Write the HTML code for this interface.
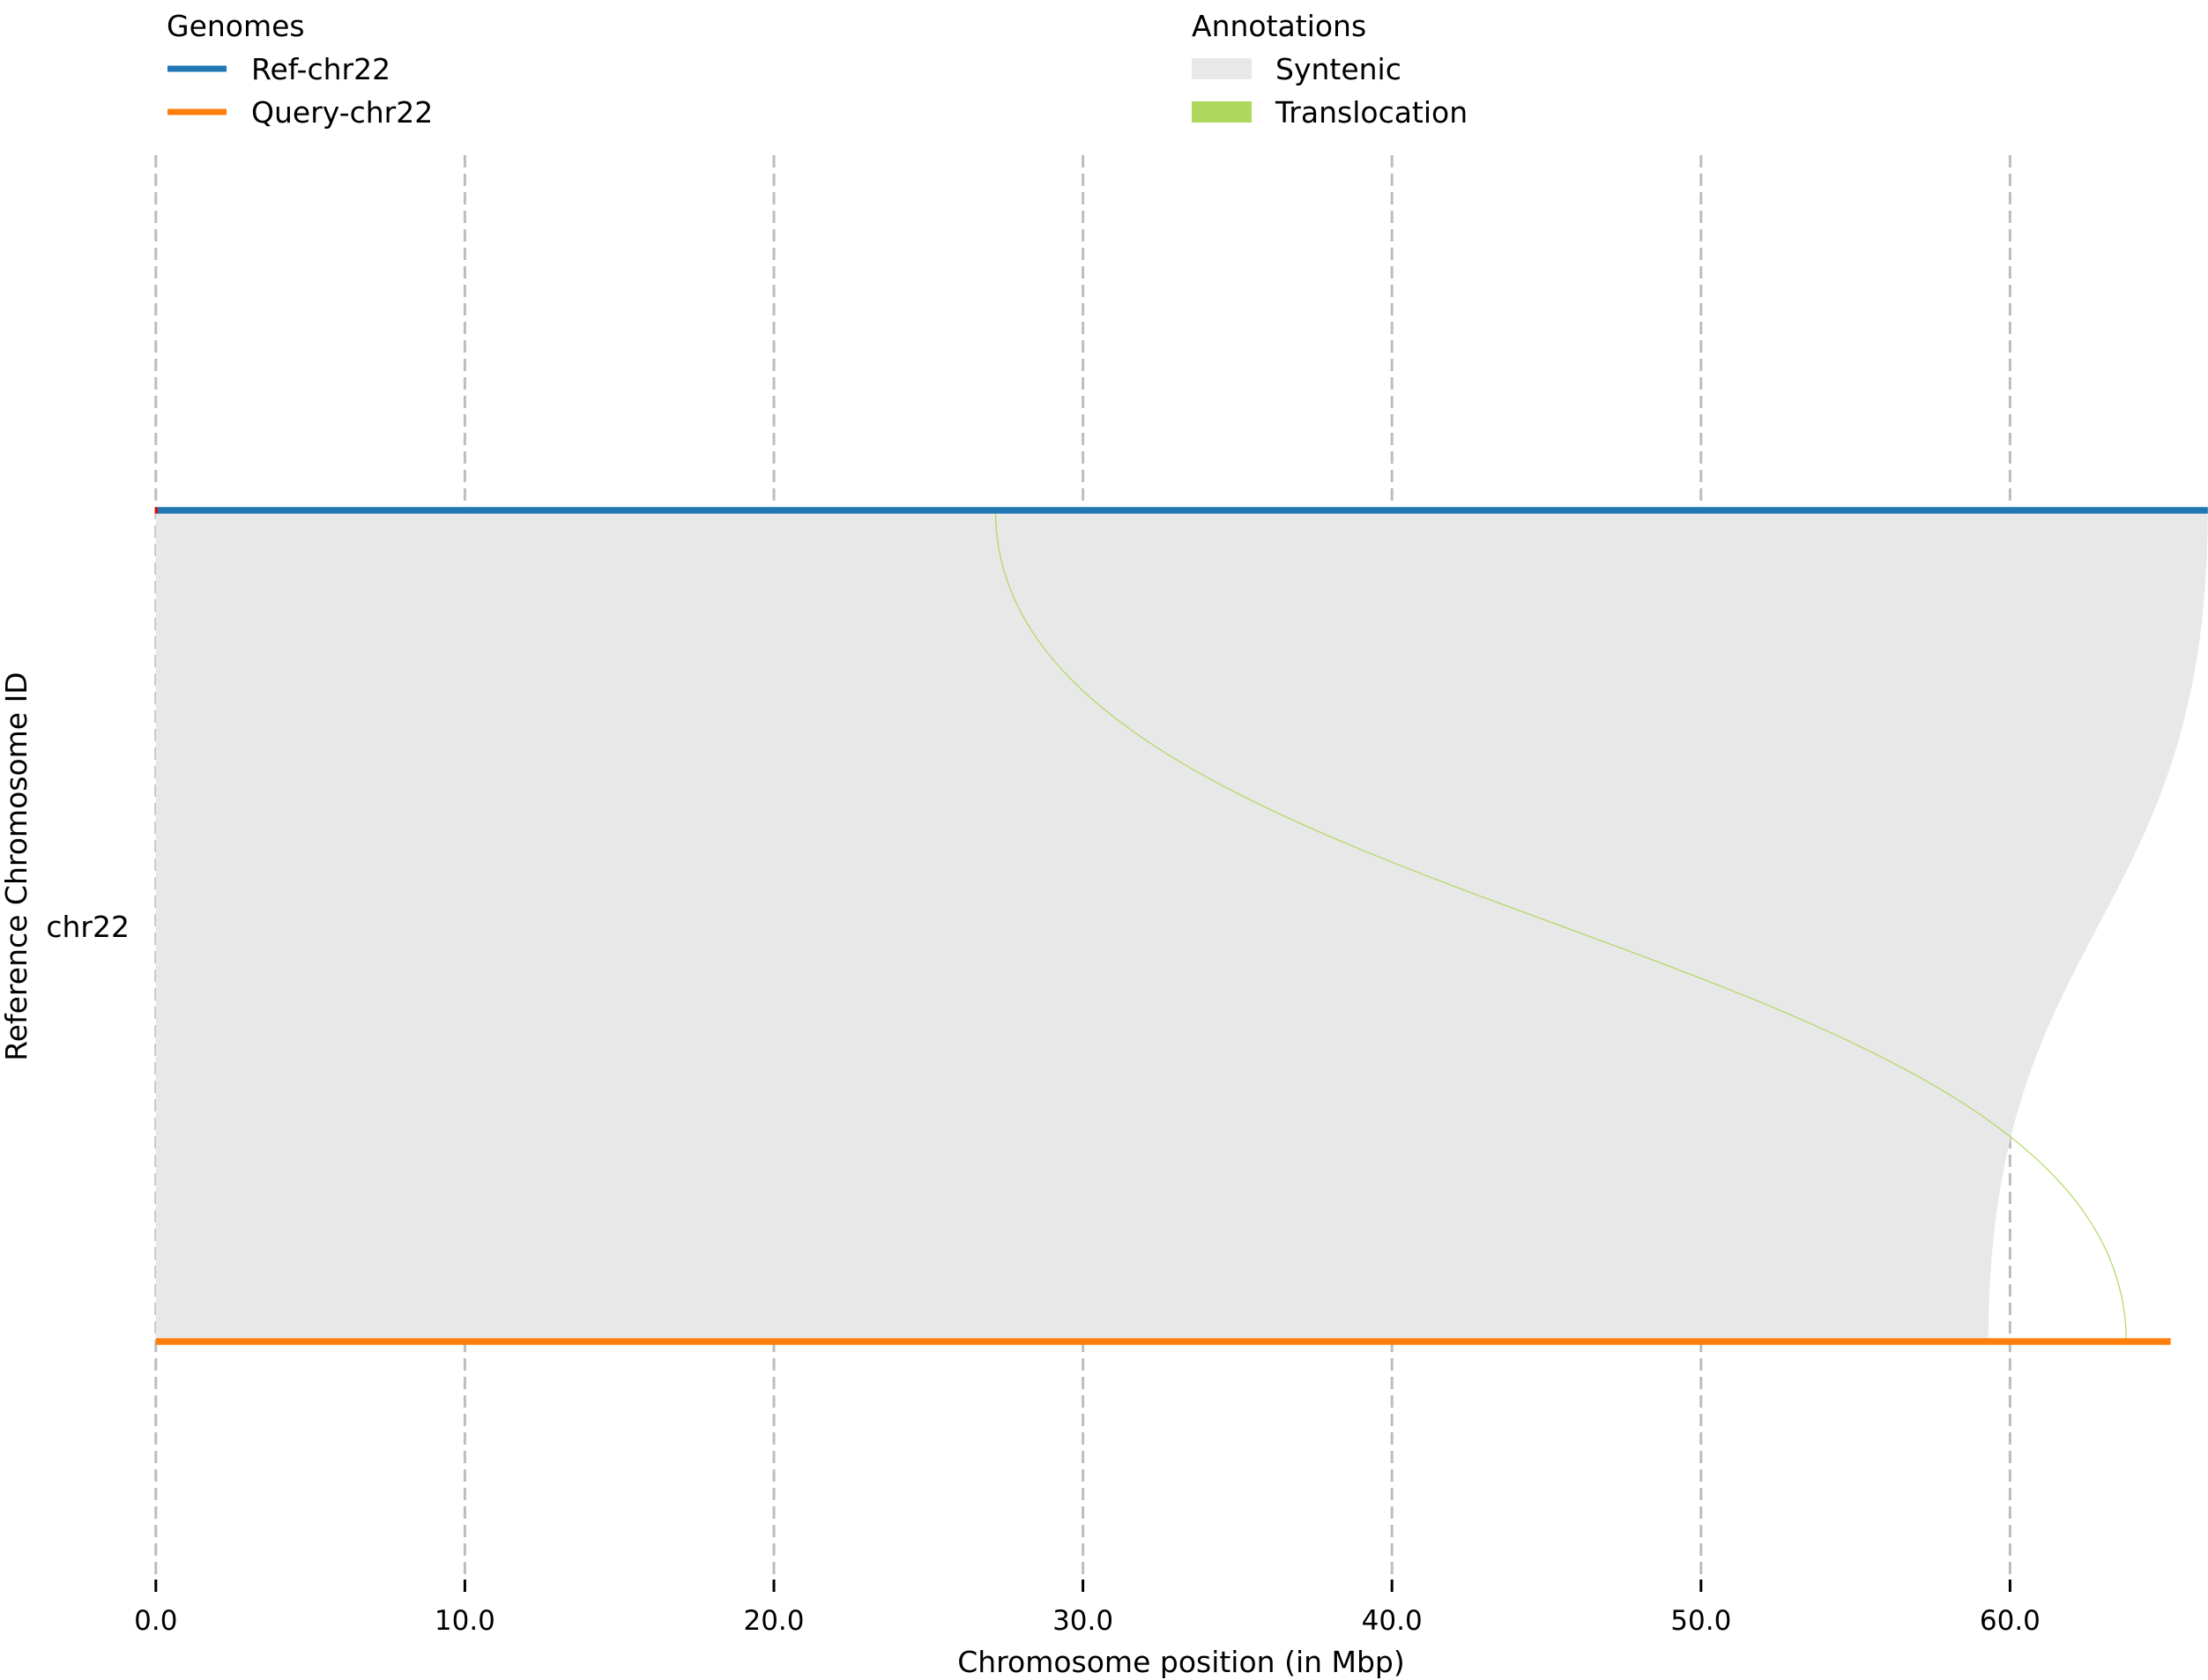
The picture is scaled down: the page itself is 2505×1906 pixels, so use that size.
<!DOCTYPE html>
<html><head><meta charset="utf-8"><style>
html,body{margin:0;padding:0;background:#fff;}
svg{display:block;font-family:"DejaVu Sans","Liberation Sans",sans-serif;}
</style></head>
<body>
<svg id="chart" width="2505" height="1906" viewBox="0 0 2505 1906" xmlns="http://www.w3.org/2000/svg">
<g id="grid"></g>
<g id="marks"></g>
<g id="axis"></g>
<text x="1340" y="1897" font-size="33" text-anchor="middle">Chromosome position (in Mbp)</text>
<text x="0" y="0" font-size="33" text-anchor="middle" transform="translate(30,983) rotate(-90)">Reference Chromosome ID</text>
<text x="147" y="1063" font-size="33" text-anchor="end">chr22</text>
<g>
<text x="189" y="41" font-size="33">Genomes</text>
<line x1="190" y1="78" x2="257" y2="78" stroke="#1f77b4" stroke-width="7"/>
<text x="285" y="90" font-size="33">Ref-chr22</text>
<line x1="190" y1="127" x2="257" y2="127" stroke="#ff7f0e" stroke-width="7"/>
<text x="285" y="139" font-size="33">Query-chr22</text>
</g>
<g>
<text x="1352" y="41" font-size="33">Annotations</text>
<rect x="1352" y="66" width="68" height="24" fill="#e8e8e8"/>
<text x="1447" y="90" font-size="33">Syntenic</text>
<rect x="1352" y="115" width="68" height="24" fill="#add85c"/>
<text x="1447" y="139" font-size="33">Translocation</text>
</g>
</svg>
<script>
const ticks=[0,10,20,30,40,50,60];
const tickLabels=["0.0","10.0","20.0","30.0","40.0","50.0","60.0"];
const refLength=[66.4];
const queryLength=[65.2];
const syntenicRef=[0,66.4];
const syntenicQuery=[0,59.3];
const translocRef=[27.17,27.17];
const translocQuery=[63.76,63.76];

const X0=176.8, PX=35.06;
const x=v=>X0+v*PX;
const yRef=579, yQry=1522;
const NS="http://www.w3.org/2000/svg";
function mk(tag,attrs,parent){const e=document.createElementNS(NS,tag);for(const k in attrs)e.setAttribute(k,attrs[k]);parent.appendChild(e);return e;}
const grid=document.getElementById('grid'),marks=document.getElementById('marks'),axis=document.getElementById('axis');
ticks.forEach((t,i)=>{
 const g=mk('line',{x1:x(t),x2:x(t),y1:176,y2:1792,stroke:'#bdbdbd','stroke-width':3,'stroke-dasharray':'14 7'},grid);
 
 
 const tk=mk('line',{x1:x(t),x2:x(t),y1:1792,y2:1806,stroke:'#000','stroke-width':3},axis);
 
 
 const tl=mk('text',{x:x(t),y:1849,'font-size':31,'text-anchor':'middle'},axis);
 tl.textContent=tickLabels[i];
 
 
});
const ym=(yRef+yQry)/2;
const s=mk('path',{d:`M${x(syntenicRef[0])},${yRef} L${x(syntenicRef[1])},${yRef} C${x(syntenicRef[1])},${ym} ${x(syntenicQuery[1])},${ym} ${x(syntenicQuery[1])},${yQry} L${x(syntenicQuery[0])},${yQry} Z`,fill:'#e8e8e8'},marks);


const tr=mk('path',{d:`M${x(translocRef[0])},${yRef} C${x(translocRef[0])},${ym} ${x(translocQuery[0])},${ym} ${x(translocQuery[0])},${yQry}`,fill:'none',stroke:'#add85c','stroke-width':1.2},marks);


const rl=mk('line',{x1:x(0),x2:x(refLength[0]),y1:yRef,y2:yRef,stroke:'#1f77b4','stroke-width':7.5},marks);


const ql=mk('line',{x1:x(0),x2:x(queryLength[0]),y1:yQry,y2:yQry,stroke:'#ff7f0e','stroke-width':7.5},marks);


const rd=mk('rect',{x:x(0)-1,y:yRef-3.5,width:3,height:7,fill:'#e00'},marks);


</script>
</body></html>
